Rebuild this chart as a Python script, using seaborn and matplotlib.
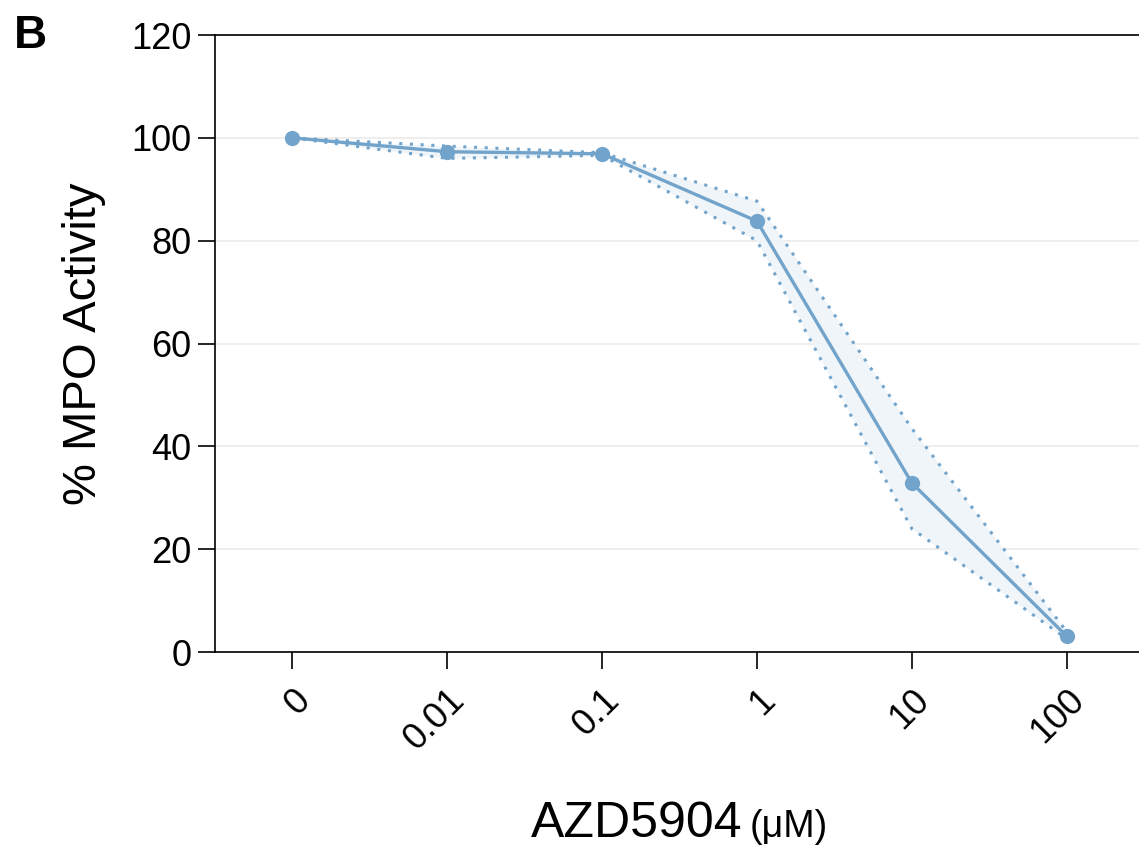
import numpy as np
import pandas as pd
import seaborn as sns
import matplotlib.pyplot as plt

doses = ['0', '0.01', '0.1', '1', '10', '100']
activity = [100, 97.3, 96.9, 83.8, 32.9, 3.1]
upper = [100, 98.4, 97.1, 87.7, 43.5, 4.0]
lower = [100, 96.0, 96.6, 80.0, 24.0, 2.6]

sns.set_style('white')
plt.rcParams['font.family'] = ['Liberation Sans', 'DejaVu Sans']
plt.rcParams['text.color'] = 'black'
plt.rcParams['axes.labelcolor'] = 'black'
plt.rcParams['xtick.color'] = 'black'
plt.rcParams['ytick.color'] = 'black'

color = '#72a4cb'
df = pd.DataFrame({'dose': doses, 'activity': activity})

fig = plt.figure(figsize=(11.39, 8.5), dpi=100)
ax = fig.add_axes([0.1888, 0.2329, 0.8156, 0.7259])

ax.yaxis.grid(True, color='#ebebeb', linewidth=1.2)
ax.set_axisbelow(True)

# confidence band with dotted edges
pos = np.arange(len(doses))
ax.fill_between(pos, lower, upper, color='#eef4f9', alpha=0.9, linewidth=0)
ax.plot(pos, upper, color=color, linestyle=(0, (1, 2.5)), linewidth=2.2)
ax.plot(pos, lower, color=color, linestyle=(0, (1, 2.5)), linewidth=2.2)
sns.lineplot(data=df, x='dose', y='activity', sort=False, color=color,
             linewidth=2.4, marker='o', markersize=11, markeredgewidth=0, ax=ax)

ax.set_xlim(-0.5, len(doses) - 0.5)
ax.set_ylim(0, 120)
ax.set_yticks(range(0, 121, 20))
ax.set_xticks(pos)
ax.set_xticklabels(doses, rotation=45, ha='right', rotation_mode='anchor')
ax.tick_params(axis='both', direction='out', length=12, width=1.2,
               labelsize=26, colors='black', bottom=True, left=True)
ax.tick_params(axis='x', pad=10)
ax.tick_params(axis='y', pad=5)
for s in ax.spines.values():
    s.set_color('black')
    s.set_linewidth(1.2)

ax.set_xlabel('')
ax.set_ylabel('% MPO Activity', fontsize=34, labelpad=18)

fig.text(0.652, 0.0153, 'AZD5904', fontsize=36, ha='right', va='baseline')
fig.text(0.658, 0.0153, '(μM)', fontsize=27, ha='left', va='baseline')
fig.text(0.012, 0.944, 'B', fontsize=33, fontweight='bold', ha='left', va='baseline')

fig.savefig('out.png', dpi=100)
